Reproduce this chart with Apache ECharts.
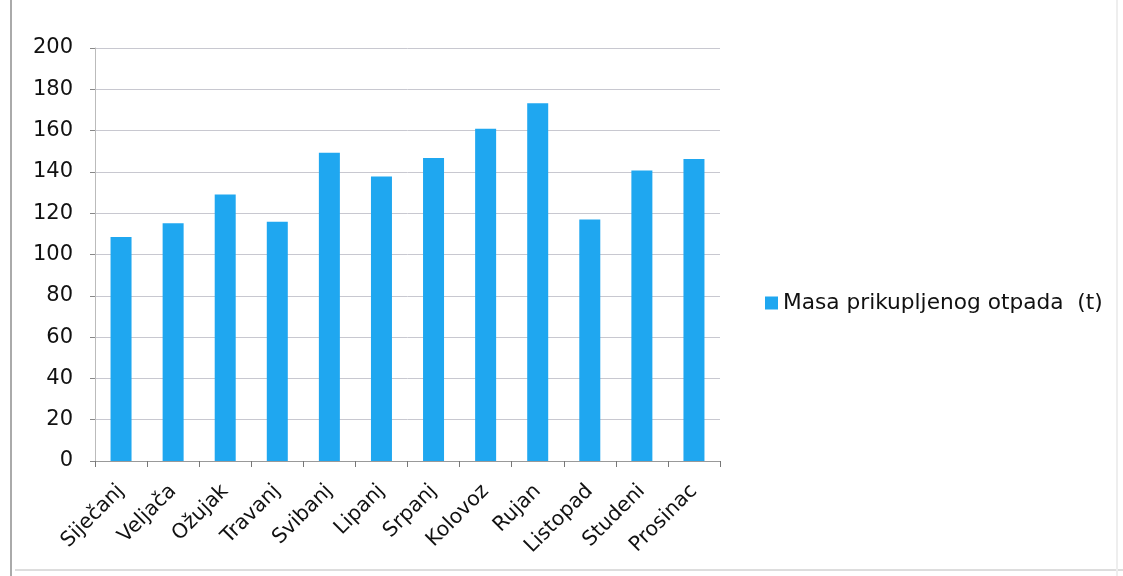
<!DOCTYPE html>
<html><head><meta charset="utf-8">
<script src="https://cdn.jsdelivr.net/npm/echarts@6/dist/echarts.min.js"></script>
<style>html,body{margin:0;padding:0;background:#fff}#c{width:1123px;height:576px}</style>
</head><body><div id="c"></div>
<script>
const categories = ['Siječanj','Veljača','Ožujak','Travanj','Svibanj','Lipanj','Srpanj','Kolovoz','Rujan','Listopad','Studeni','Prosinac'];
const values = [108.5,115.1,129,115.9,149.3,137.8,146.7,160.9,173.2,116.9,140.7,146.2];
const seriesName = 'Masa prikupljenog otpada  (t)';
const chart = echarts.init(document.getElementById('c'));
const font = '"DejaVu Sans", sans-serif';
chart.setOption({
  backgroundColor: '#fff',
  animation: false,
  textStyle: {fontFamily: font},
  grid: {left: 95, right: 403, top: 48, bottom: 115, containLabel: false},
  legend: {
    data: [seriesName], orient: 'vertical', left: 760, top: 287,
    itemWidth: 13, itemHeight: 13, itemGap: 6,
    textStyle: {fontSize: 21.7, color: '#111', fontFamily: font},
    icon: 'rect'
  },
  xAxis: {
    type: 'category', data: categories,
    axisLine: {lineStyle: {color: '#999', width: 1}},
    axisTick: {show: true, length: 6, lineStyle: {color: '#777'}},
    axisLabel: {rotate: 45, fontSize: 20.5, color: '#111', margin: 27, interval: 0, fontFamily: font}
  },
  yAxis: {
    type: 'value', min: 0, max: 200, interval: 20,
    axisLine: {show: true, lineStyle: {color: '#bbb'}},
    axisTick: {show: true, length: 5, inside: false, lineStyle: {color: '#888'}},
    axisLabel: {fontSize: 21, color: '#111', margin: 22, fontFamily: font},
    splitLine: {lineStyle: {color: '#c8c8d0', width: 1}}
  },
  series: [{
    name: seriesName, type: 'bar', data: values,
    barWidth: 21, itemStyle: {color: '#1fa7f0'}
  }],
  graphic: [
    {type: 'line', shape: {x1: 11, y1: 0, x2: 11, y2: 576}, style: {stroke: '#aaa', lineWidth: 2}},
    {type: 'line', shape: {x1: 15, y1: 570, x2: 1123, y2: 570}, style: {stroke: '#ddd', lineWidth: 2}},
    {type: 'line', shape: {x1: 1117, y1: 0, x2: 1117, y2: 576}, style: {stroke: '#eee', lineWidth: 2}}
  ]
});
</script></body></html>
